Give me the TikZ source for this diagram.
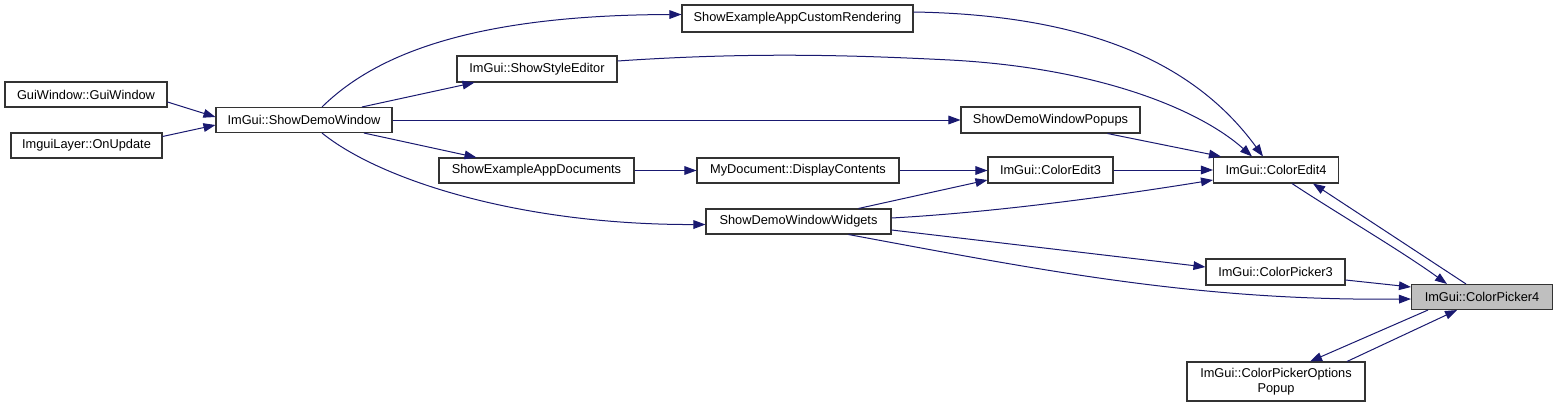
\documentclass[tikz,border=0pt]{standalone}
\usepackage{fontspec}
\setmainfont{Liberation Sans}
\usetikzlibrary{arrows.meta}
\definecolor{edgec}{HTML}{191970}
\definecolor{boxc}{HTML}{333333}
\definecolor{hl}{HTML}{BFBFBF}
\begin{document}
\begin{tikzpicture}[x=0.75pt,y=-0.75pt,
  box/.style={draw=boxc,line width=0.8pt,fill=white,inner sep=0pt,
    font=\fontsize{9.6}{11}\selectfont,minimum height=18.75pt},
  bw/.style={minimum width=#1*0.75pt},
  bh/.style={minimum height=#1*0.75pt},
  conn/.style={draw=edgec,line width=0.75pt,-{Triangle[length=9pt,width=6.5pt]}}]
\useasboundingbox[fill=white] (0,0) rectangle (1556,407);

\node[box,bw=162] (gw) at (86,94.5) {GuiWindow::GuiWindow};
\node[box,bw=151] (il) at (86.5,145.5) {ImguiLayer::OnUpdate};
\node[box,bw=176] (sdw) at (304,120) {ImGui::ShowDemoWindow};
\node[box,bw=231,bh=27] (cr) at (797.5,18.5) {ShowExampleAppCustomRendering};
\node[box,bw=160,bh=26] (se) at (537,69) {ImGui::ShowStyleEditor};
\node[box,bw=179,bh=26] (pop) at (1050.5,120) {ShowDemoWindowPopups};
\node[box,bw=195] (doc) at (536.5,170.5) {ShowExampleAppDocuments};
\node[box,bw=202] (dc) at (798,170.5) {MyDocument::DisplayContents};
\node[box,bw=125,bh=26] (ce3) at (1050.5,170) {ImGui::ColorEdit3};
\node[box,bw=185] (wid) at (798.5,221.5) {ShowDemoWindowWidgets};
\node[box,bw=125,bh=26] (ce4) at (1276,170) {ImGui::ColorEdit4};
\node[box,bw=139,bh=26] (cp3) at (1275.5,272) {ImGui::ColorPicker3};
\node[box,bw=141,fill=hl] (cp4) at (1482,297) {ImGui::ColorPicker4};
\node[box,bw=178,bh=39,align=center] (opt) at (1276,381.5) {ImGui::ColorPickerOptions\\Popup};

\draw[conn] ([shift={(0,7.5)}]gw.east) -- ([shift={(0,-3)}]sdw.west);
\draw[conn] ([shift={(0,-9)}]il.east) -- ([shift={(0,5)}]sdw.west);
\draw[conn] ([shift={(18,0)}]sdw.north) .. controls (370,60) and (460,15) .. ([shift={(0,-4)}]cr.west);
\draw[conn] ([shift={(58,0)}]sdw.north) -- ([shift={(18,0)}]se.south west);
\draw[conn] (sdw.east) -- (pop.west);
\draw[conn] ([shift={(60,0)}]sdw.south) -- ([shift={(38,0)}]doc.north west);
\draw[conn] ([shift={(18,0)}]sdw.south) .. controls (380,180) and (520,225) .. ([shift={(0,3)}]wid.west);
\draw[conn] (doc.east) -- (dc.west);
\draw[conn] (dc.east) -- (dc.east -| ce3.west);
\draw[conn] ([shift={(60,0)}]wid.north) -- ([shift={(0,10)}]ce3.west);
\draw[conn] (ce3.east) -- (ce4.west);
\draw[conn] ([shift={(0,-3.5)}]wid.east) .. controls (1000,212) and (1120,195) .. ([shift={(0,10)}]ce4.west);
\draw[conn] ([shift={(0,8.5)}]wid.east) -- ([shift={(0,-5)}]cp3.west);
\draw[conn] ([shift={(50,0)}]wid.south) .. controls (1050,272) and (1200,301) .. ([shift={(0,2)}]cp4.west);
\draw[conn] ([shift={(0,-6.5)}]cr.east) .. controls (1100,15) and (1200,70) .. ([shift={(-13,0)}]ce4.north);
\draw[conn] ([shift={(0,-8)}]se.east) .. controls (750,52) and (850,55) .. (950,60) .. controls (1100,68) and (1200,110) .. ([shift={(-24,0)}]ce4.north);
\draw[conn] ([shift={(57,0)}]pop.south) -- ([shift={(8,0)}]ce4.north west);
\draw[conn] ([shift={(16,0)}]ce4.south) .. controls (1335,212) and (1400,250) .. ([shift={(-35,0)}]cp4.north);
\draw[conn] ([shift={(-16,0)}]cp4.north) -- ([shift={(37,0)}]ce4.south);
\draw[conn] ([shift={(0,8)}]cp3.east) -- ([shift={(0,-10)}]cp4.west);
\draw[conn] ([shift={(-54,0)}]cp4.south) -- ([shift={(34,0)}]opt.north);
\draw[conn] ([shift={(71,0)}]opt.north) -- ([shift={(-25,0)}]cp4.south);
\end{tikzpicture}
\end{document}
